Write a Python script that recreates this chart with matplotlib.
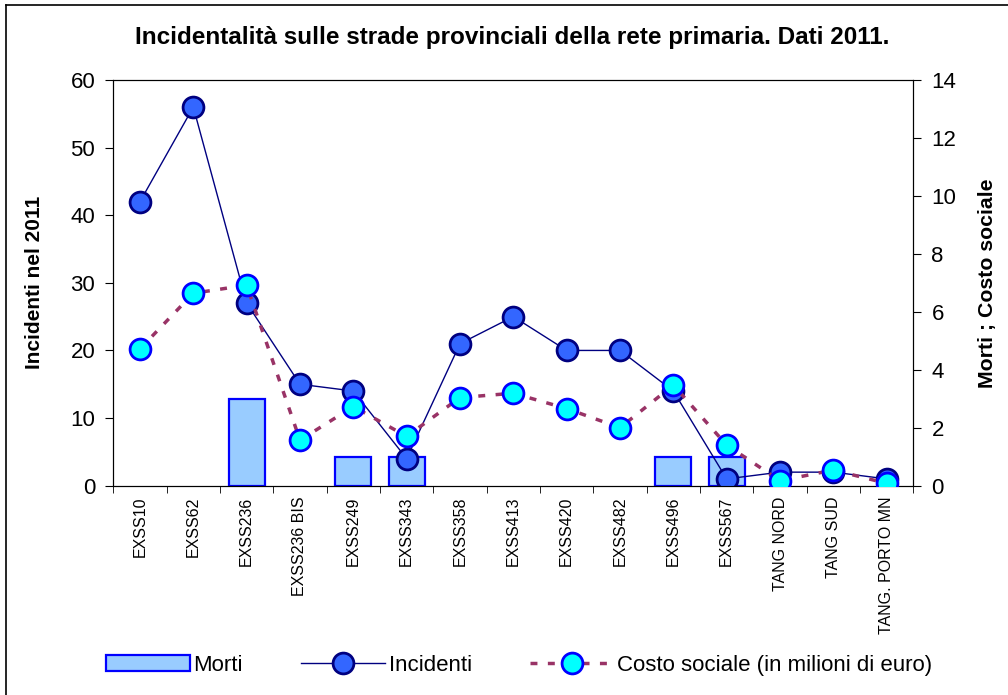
import matplotlib
matplotlib.use('Agg')
import matplotlib.pyplot as plt
import numpy as np
from matplotlib.lines import Line2D

plt.rcParams['font.family'] = ['Liberation Sans', 'DejaVu Sans']

strade = ['EXSS10', 'EXSS62', 'EXSS236', 'EXSS236 BIS', 'EXSS249', 'EXSS343',
          'EXSS358', 'EXSS413', 'EXSS420', 'EXSS482', 'EXSS496', 'EXSS567',
          'TANG NORD', 'TANG SUD', 'TANG. PORTO MN']
incidenti = [42, 56, 27, 15, 14, 4, 21, 25, 20, 20, 14, 1, 2, 2, 1]
morti = [0, 0, 3, 0, 1, 1, 0, 0, 0, 0, 1, 1, 0, 0, 0]
costo = [4.72, 6.64, 6.92, 1.57, 2.73, 1.70, 3.04, 3.19, 2.66, 2.0, 3.47, 1.40,
         0.17, 0.54, 0.08]

x = np.arange(len(strade))
m = np.array(morti)
nz = m > 0   # zero bars are not drawn in the original

fig = plt.figure(figsize=(10.08, 6.95), dpi=100)
ax = fig.add_axes([0.1124, 0.3012, 0.7937, 0.5837])
axr = ax.twinx()   # bars, right scale
axc = ax.twinx()   # costo sociale, drawn on top
axr.set_zorder(0)
ax.set_zorder(1)
axc.set_zorder(2)
ax.patch.set_visible(False)
axc.patch.set_visible(False)

# Morti (right axis)
bars = axr.bar(x[nz], m[nz], width=0.68, color='#99CCFF', edgecolor='#0000FF', linewidth=1.6)

# Incidenti (left axis)
l1, = ax.plot(x, incidenti, color='#000080', lw=1, marker='o', ms=15,
              mfc='#3366FF', mec='#000080', mew=2)

# Costo sociale (right axis)
l2, = axc.plot(x, costo, color='#993366', lw=2.5, ls=(0, (2, 3)), marker='o', ms=15,
               mfc='#00FFFF', mec='#0000FF', mew=2)

ax.set_xlim(-0.5, len(strade) - 0.5)
ax.set_ylim(0, 60)
ax.set_yticks(range(0, 61, 10))
axr.set_ylim(0, 14)
axr.set_yticks(range(0, 15, 2))
axc.set_ylim(0, 14)
axc.set_yticks([])
for s in axc.spines.values():
    s.set_visible(False)

ax.set_xticks(x)
ax.set_xticklabels(strade, rotation=90, fontsize=11.5)
ax.set_xticks(np.arange(-0.5, len(strade)), minor=True)
ax.tick_params(axis='x', which='major', length=0, pad=8)
ax.tick_params(axis='x', which='minor', length=5, direction='out')
ax.tick_params(axis='y', labelsize=16, length=6, direction='out', pad=7)
axr.tick_params(axis='y', labelsize=16, length=6, direction='out', pad=7)

# axis titles
fig.text(35 / 1008, 1 - 282 / 695, 'Incidenti nel 2011', rotation=90,
         ha='center', va='center', fontsize=15, fontweight='bold')
fig.text(988 / 1008, 1 - 283 / 695, 'Morti ; Costo sociale', rotation=90,
         ha='center', va='center', fontsize=15.3, fontweight='bold')

fig.text(0.508, 0.946, 'Incidentalità sulle strade provinciali della rete primaria. Dati 2011.',
         ha='center', va='center', fontsize=17.5, fontweight='bold')

fig.legend([bars, l1, l2], ['Morti', 'Incidenti', 'Costo sociale (in milioni di euro)'],
           loc='center', bbox_to_anchor=(0.515, 0.043), ncol=3, frameon=False,
           fontsize=16, handlelength=3.8, columnspacing=2.6, handletextpad=0.15)

# outer frame
fig.add_artist(Line2D([6 / 1008, 6 / 1008], [0, 1 - 5 / 695], color='black', lw=1.2,
                      transform=fig.transFigure))
fig.add_artist(Line2D([6 / 1008, 1], [1 - 5 / 695, 1 - 5 / 695], color='black', lw=1.2,
                      transform=fig.transFigure))

fig.savefig('out.png', dpi=100)
